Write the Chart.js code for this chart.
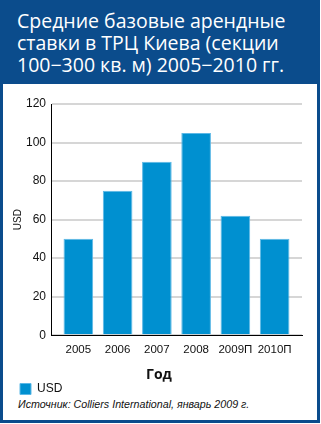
<!DOCTYPE html>
<html>
<head>
<meta charset="utf-8">
<script src="https://cdn.jsdelivr.net/npm/chart.js@4.4.0/dist/chart.umd.min.js"></script>
<style>
  html, body { margin:0; padding:0; background:#fff; }
  #frame { position:absolute; left:0; top:0; width:321px; height:424px; }
  #outer { position:absolute; left:0; top:0; width:320px; height:423px; background:#0b4c8c; }
  #panel { position:absolute; left:3px; top:84px; width:314px; height:336px; background:#fff; }
  #title { position:absolute; left:17px; top:10px; color:#fff; font-family:"Open Sans", sans-serif;
           font-size:19.5px; line-height:22px; white-space:nowrap; }
  #source { position:absolute; left:18px; top:398px; font-family:"Liberation Sans Narrow", "Liberation Sans", sans-serif;
            font-style:italic; font-size:10.7px; color:#111; white-space:nowrap; }
  canvas { position:absolute; left:0; top:0; }
</style>
</head>
<body>
<div id="frame">
  <div id="outer"></div>
  <div id="panel"></div>
  <div id="title">Средние базовые арендные<br>ставки в ТРЦ Киева (секции<br>100−300 кв. м) 2005−2010 гг.</div>
  <div id="source">Источник: Colliers International, январь 2009 г.</div>
  <canvas id="c" width="321" height="424"></canvas>
</div>
<script>
const categories = ["2005", "2006", "2007", "2008", "2009П", "2010П"];
const usdValues = [50, 75, 90, 105, 62, 50];
const seriesName = "USD";
const yTicks = [0, 20, 40, 60, 80, 100, 120];
const xTitle = "Год";
const yTitle = "USD";

const fam = "'Liberation Sans Narrow', 'Liberation Sans', sans-serif";
const points = categories.map((c, i) => ({ x: i, y: usdValues[i] }));

new Chart(document.getElementById('c'), {
  type: 'bar',
  data: {
    datasets: [{
      label: seriesName,
      data: points,
      backgroundColor: '#0090d0',
      borderColor: '#5cb8e6',
      borderWidth: 1,
      categoryPercentage: 1,
      barPercentage: 0.755
    }]
  },
  options: {
    responsive: false,
    animation: false,
    devicePixelRatio: 1,
    layout: { padding: { left: 16, right: 19, top: 104, bottom: 19 } },
    plugins: {
      tooltip: { enabled: false },
      title: {
        display: true, text: xTitle, position: 'bottom', weight: 500, color: '#111',
        font: { family: "'Open Sans', sans-serif", size: 14, weight: 'bold' },
        padding: { top: 0, bottom: -4 }
      },
      legend: {
        position: 'bottom',
        align: 'start',
        labels: {
          boxWidth: 11, boxHeight: 11, padding: 4,
          color: '#111',
          font: { family: fam, size: 12 }
        }
      }
    },
    scales: {
      x: {
        type: 'linear',
        offset: false,
        min: -0.697, max: categories.length - 1 + 0.697,
        afterFit: (s) => { s.height = 31; },
        afterBuildTicks: (s) => { s.ticks = categories.map((c, i) => ({ value: i })); },
        grid: { display: false, drawTicks: false, offset: false },
        border: { display: true, color: '#000', width: 1 },
        ticks: { color: '#111', font: { family: fam, size: 11.5 }, padding: 8, maxRotation: 0, autoSkip: false,
                 callback: (v) => categories[v] },
      },
      y: {
        min: 0, max: 120,
        afterFit: (s) => { s.width = 35; },
        afterBuildTicks: (s) => { s.ticks = yTicks.map(v => ({ value: v })); },
        grid: { color: '#d6d6d6', lineWidth: 2, drawTicks: false },
        border: { display: true, color: '#000', width: 1 },
        ticks: { color: '#111', font: { family: fam, size: 12 }, padding: 5 },
        title: { display: true, text: yTitle, color: '#111',
                 font: { family: "'Liberation Sans', sans-serif", size: 10 },
                 padding: { top: -4, bottom: 0 } }
      }
    }
  }
});
</script>
</body>
</html>
